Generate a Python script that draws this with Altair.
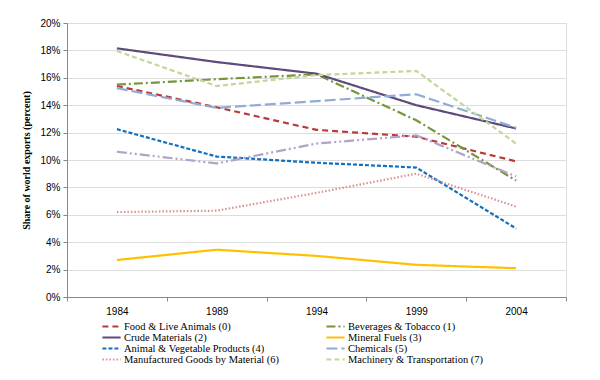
import altair as alt
import pandas as pd

years = ["1984", "1989", "1994", "1999", "2004"]
series_names = [
    "Food & Live Animals (0)",
    "Beverages & Tobacco (1)",
    "Crude Materials (2)",
    "Mineral Fuels (3)",
    "Animal & Vegetable Products (4)",
    "Chemicals (5)",
    "Manufactured Goods by Material (6)",
    "Machinery & Transportation (7)",
    "Miscellaneous Manufactured Articles (8)",
]
food = [15.4, 13.85, 12.2, 11.7, 9.9]
beverages = [15.5, 15.9, 16.25, 12.9, 8.5]
crude = [18.15, 17.15, 16.3, 14.0, 12.3]
mineral = [2.7, 3.45, 3.0, 2.35, 2.1]
animal_veg = [12.25, 10.25, 9.8, 9.45, 5.0]
chemicals = [15.25, 13.8, 14.3, 14.8, 12.35]
manufactured = [6.2, 6.3, 7.6, 9.0, 6.6]
machinery = [17.95, 15.4, 16.2, 16.5, 11.2]
misc = [10.6, 9.75, 11.2, 11.8, 8.8]

all_values = [food, beverages, crude, mineral, animal_veg, chemicals,
              manufactured, machinery, misc]
colors = ["#b83b3a", "#76963a", "#5f4a7c", "#ffc000", "#1170c0",
          "#8eacd4", "#d7918f", "#c3d69b", "#b3a2c7"]
dashes = [[6, 4], [9, 3, 2, 3], [1, 0], [1, 0], [4, 2],
          [11, 4], [1.5, 2], [5, 3], [10, 3, 2, 3, 2, 3]]

legend_order = [series_names[i] for i in [0, 2, 4, 6, 1, 3, 5, 7]]

rows = []
for name, vals in zip(series_names, all_values):
    for y, v in zip(years, vals):
        rows.append({"year": y, "value": v, "series": name})
df = pd.DataFrame(rows)

font = "Liberation Serif"


def make_legend():
    return alt.Legend(title=None, values=legend_order,
                      orient="none", legendX=34, legendY=298,
                      columns=2, columnPadding=45, rowPadding=0,
                      clipHeight=11,
                      symbolType="stroke", symbolSize=330,
                      symbolStrokeWidth=2.2,
                      labelFont=font, labelFontSize=10.5,
                      labelColor="#000", labelOffset=2, labelLimit=300)


chart = alt.Chart(df).mark_line(strokeWidth=2.2).encode(
    x=alt.X("year:N", sort=years,
            scale=alt.Scale(paddingInner=0, paddingOuter=0),
            axis=alt.Axis(title=None, labelAngle=0, tickBand="extent",
                          grid=False, labelPadding=5, tickSize=4)),
    y=alt.Y("value:Q", scale=alt.Scale(domain=[0, 20], nice=False),
            axis=alt.Axis(title="Share of world exports (percent)",
                          values=list(range(0, 21, 2)),
                          labelExpr="datum.value + '%'",
                          titleFontWeight="bold", titleFontSize=10,
                          titleFont=font, titlePadding=8,
                          tickSize=4, labelPadding=3)),
    color=alt.Color("series:N", sort=series_names,
                    scale=alt.Scale(domain=series_names, range=colors),
                    legend=make_legend()),
    strokeDash=alt.StrokeDash("series:N", sort=series_names,
                              scale=alt.Scale(domain=series_names, range=dashes),
                              legend=make_legend()),
).properties(
    width=499, height=274,
    autosize=alt.AutoSizeParams(type="none"),
    padding={"left": 59, "top": 15, "right": 26, "bottom": 75},
).configure_axis(
    labelFont=font, labelFontSize=10, labelColor="#000",
    domainColor="#a6a6a6", domainWidth=2, tickColor="#a6a6a6", tickWidth=1.5,
    gridColor="#b8b8b8", gridWidth=1.5, titleColor="#000",
).configure_view(stroke=None).configure(background="white")

chart.save("out.html", embed_options={"renderer": "svg", "actions": False})
